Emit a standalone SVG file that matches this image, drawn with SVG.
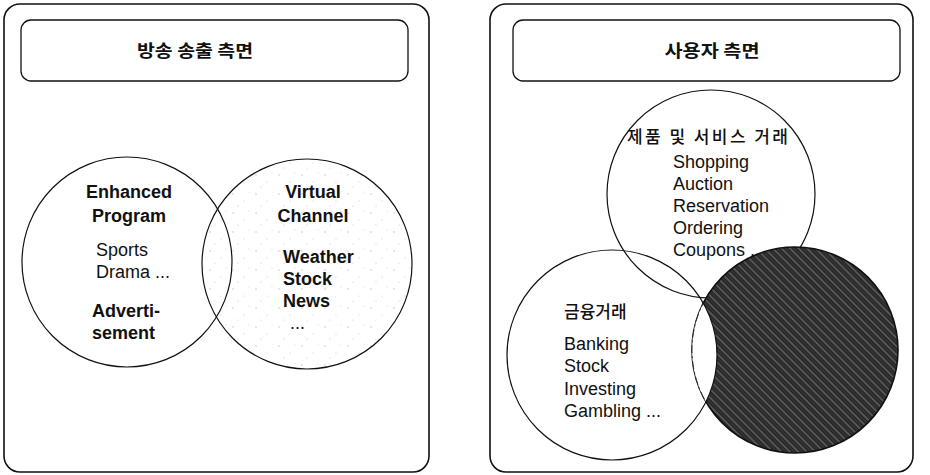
<svg xmlns="http://www.w3.org/2000/svg" width="930" height="475" viewBox="0 0 930 475">
<style>
.panel{fill:#fff;stroke:#111;stroke-width:1.6}
.hdr{fill:#fff;stroke:#111;stroke-width:1.3}
.ring{fill:none;stroke:#111;stroke-width:1.2}
.ko{font-family:"Noto Sans CJK KR","Noto Sans",sans-serif;fill:#111}
.km{font-weight:500}
.en{font-family:"Liberation Sans",Arial,sans-serif;font-size:18px;fill:#111}
.b{font-weight:bold}
</style>
<defs>
<pattern id="speck" width="23" height="19" patternUnits="userSpaceOnUse">
<circle cx="3" cy="4" r="0.7" fill="#bbb"/><circle cx="14" cy="11" r="0.6" fill="#c8c8c8"/><circle cx="19" cy="2" r="0.5" fill="#ccc"/><circle cx="8" cy="16" r="0.6" fill="#c4c4c4"/>
</pattern>
<pattern id="dark" width="6" height="6" patternUnits="userSpaceOnUse" patternTransform="rotate(45)">
<rect width="6" height="6" fill="#222"/>
<line x1="0" y1="1" x2="6" y2="1" stroke="#8a8a8a" stroke-width="1"/>
<line x1="0" y1="4" x2="6" y2="4" stroke="#4a4a4a" stroke-width="0.8"/>
</pattern>
<clipPath id="clipDark"><circle cx="795" cy="350" r="103"/></clipPath>
<clipPath id="clipFin"><circle cx="612" cy="355" r="105"/></clipPath>
</defs>

<g id="panel-broadcast">
<rect class="panel" x="4" y="4" width="425" height="468" rx="16"/>
<rect class="hdr" x="21" y="20" width="387" height="61" rx="10"/>
<text class="ko b" x="195" y="57" font-size="17" text-anchor="middle" textLength="116" lengthAdjust="spacingAndGlyphs">방송 송출 측면</text>
</g>

<g id="panel-user">
<rect class="panel" x="490" y="4" width="423" height="468" rx="16"/>
<rect class="hdr" x="513" y="20" width="387" height="61" rx="10"/>
<text class="ko b" x="712" y="57" font-size="17" text-anchor="middle" textLength="95" lengthAdjust="spacingAndGlyphs">사용자 측면</text>
</g>

<g id="circle-enhanced">
<circle class="ring" cx="127" cy="262" r="105"/>
<text class="en b" x="129" y="198" text-anchor="middle">Enhanced</text>
<text class="en b" x="129" y="222" text-anchor="middle">Program</text>
<text class="en" x="96" y="256">Sports</text>
<text class="en" x="96" y="278">Drama ...</text>
<text class="en b" x="92" y="317">Adverti-</text>
<text class="en b" x="92" y="339">sement</text>
</g>

<g id="circle-virtual">
<circle cx="307" cy="264" r="105" fill="url(#speck)"/>
<circle class="ring" cx="307" cy="264" r="105"/>
<text class="en b" x="313" y="198" text-anchor="middle">Virtual</text>
<text class="en b" x="313" y="222" text-anchor="middle">Channel</text>
<text class="en b" x="283" y="263">Weather</text>
<text class="en b" x="283" y="285">Stock</text>
<text class="en b" x="283" y="307">News</text>
<text class="en" x="290" y="329">...</text>
</g>

<g id="circle-products">
<circle class="ring" cx="711" cy="194" r="104"/>
<text class="ko km" x="627" y="143" font-size="17" textLength="161" lengthAdjust="spacing">제품 및 서비스 거래</text>
<text class="en" x="673" y="168">Shopping</text>
<text class="en" x="673" y="190">Auction</text>
<text class="en" x="673" y="212">Reservation</text>
<text class="en" x="673" y="234">Ordering</text>
<text class="en" x="673" y="256">Coupons ...</text>
</g>

<g id="circle-contents">
<circle cx="795" cy="350" r="103" fill="url(#dark)" stroke="#111" stroke-width="1.6"/>
</g>

<g id="circle-finance">
<circle cx="612" cy="355" r="105" fill="#fff" clip-path="url(#clipDark)"/>
<circle class="ring" cx="612" cy="355" r="105"/>
<circle cx="795" cy="350" r="103" fill="none" stroke="#222" stroke-width="0.9" stroke-dasharray="8 3 2 3" clip-path="url(#clipFin)"/>
<text class="ko km" x="564" y="318" font-size="17">금융거래</text>
<text class="en" x="564" y="350">Banking</text>
<text class="en" x="564" y="372">Stock</text>
<text class="en" x="564" y="395">Investing</text>
<text class="en" x="564" y="417">Gambling ...</text>
</g>

<g id="connectors"></g>
</svg>
